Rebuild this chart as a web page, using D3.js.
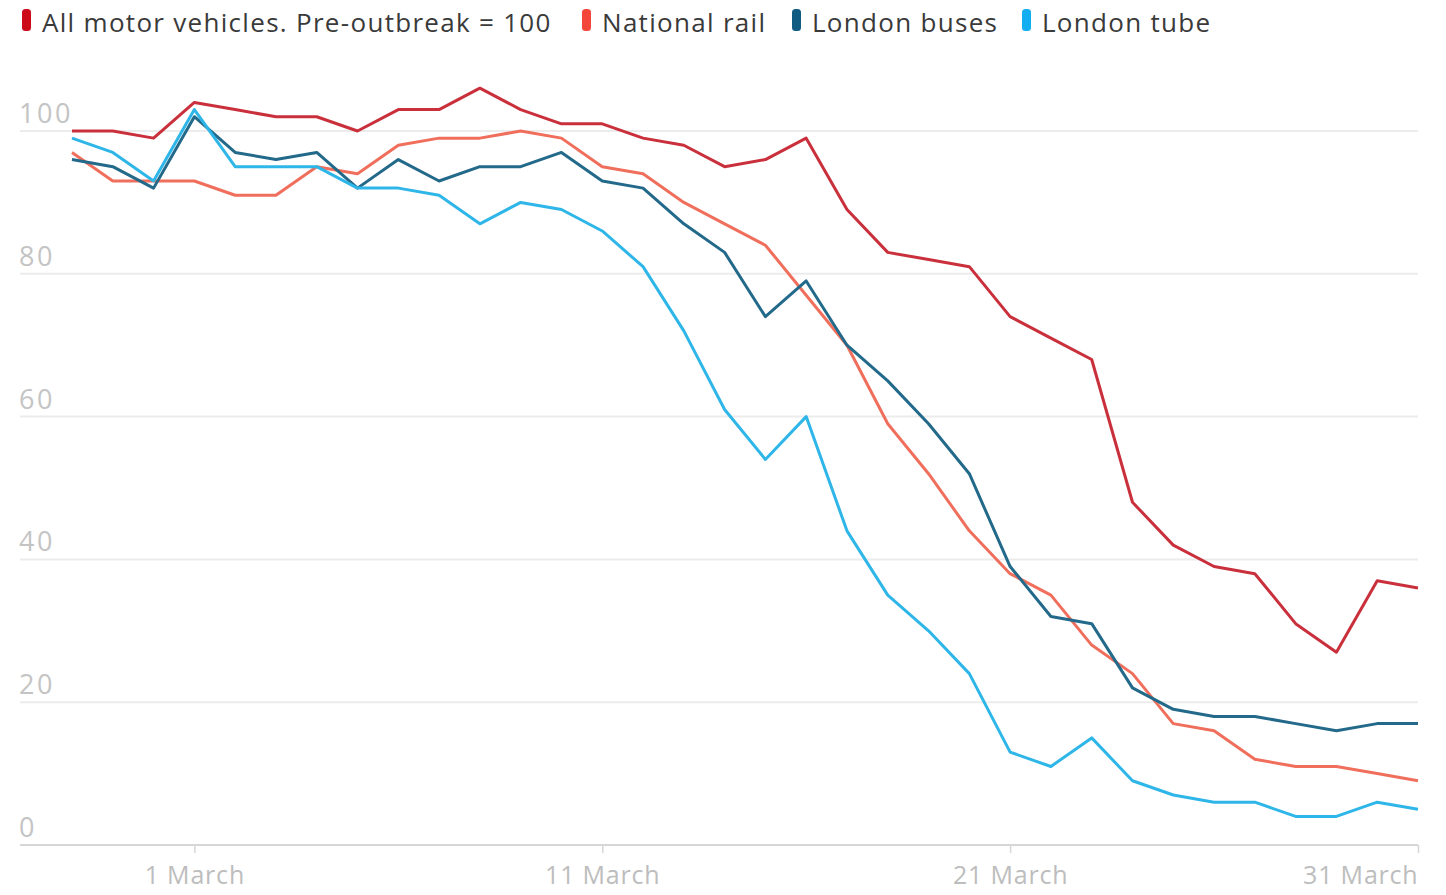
<!DOCTYPE html>
<html>
<head>
<meta charset="utf-8">
<script src="https://cdnjs.cloudflare.com/ajax/libs/d3/7.8.5/d3.min.js"></script>
<style>
  body { margin: 0; background: #fff; }
  #chart { width: 1446px; height: 895px; }
  .legend-text { font-family: "Open Sans", "Noto Sans", sans-serif; font-size: 26px; letter-spacing: 1.3px; fill: #3a3a3a; }
  .axis-label { font-family: "Open Sans", "Noto Sans", sans-serif; font-size: 25px; letter-spacing: 0.8px; fill: #bdbdbd; }
  .y-label { font-family: "Open Sans", "Noto Sans", sans-serif; font-size: 27px; letter-spacing: 2.5px; fill: #c4c4c4; }
</style>
</head>
<body>
<div id="chart"></div>
<script>
// Days from 27 Feb to 31 March 2020
var startDate = new Date(2020, 1, 27);
var endDate = new Date(2020, 2, 31);
var dates = d3.timeDay.range(startDate, d3.timeDay.offset(endDate, 1));

var motorValues = [100, 100, 99, 104, 103, 102, 102, 100, 103, 103, 106, 103, 101, 101, 99, 98, 95, 96, 99, 89, 83, 82, 81, 74, 71, 68, 48, 42, 39, 38, 31, 27, 37, 36];
var railValues = [97, 93, 93, 93, 91, 91, 95, 94, 98, 99, 99, 100, 99, 95, 94, 90, 87, 84, 77, 70, 59, 52, 44, 38, 35, 28, 24, 17, 16, 12, 11, 11, 10, 9];
var busValues = [96, 95, 92, 102, 97, 96, 97, 92, 96, 93, 95, 95, 97, 93, 92, 87, 83, 74, 79, 70, 65, 59, 52, 39, 32, 31, 22, 19, 18, 18, 17, 16, 17, 17];
var tubeValues = [99, 97, 93, 103, 95, 95, 95, 92, 92, 91, 87, 90, 89, 86, 81, 72, 61, 54, 60, 44, 35, 30, 24, 13, 11, 15, 9, 7, 6, 6, 4, 4, 6, 5];

var seriesNames = ['All motor vehicles. Pre-outbreak = 100', 'National rail', 'London buses', 'London tube'];
var seriesValues = [motorValues, railValues, busValues, tubeValues];
var lineColors = ['#c9303c', '#f06f5c', '#22698a', '#2fb6e8'];
var swatchColors = ['#cc0a18', '#f2473a', '#0f5b82', '#12aef2'];

var yTicks = [0, 20, 40, 60, 80, 100];
var xTickDates = [new Date(2020, 2, 1), new Date(2020, 2, 11), new Date(2020, 2, 21), new Date(2020, 2, 31)];
var xTickLabels = ['1 March', '11 March', '21 March', '31 March'];
var legendX = [22, 582, 792, 1022];

var width = 1446,
    height = 895;
var margin = {top: 131, right: 28, bottom: 50, left: 72};

var svg = d3.select('#chart')
    .append('svg')
    .attr('width', width)
    .attr('height', height);

// Scales
var x = d3.scaleTime()
    .domain([startDate, endDate])
    .range([margin.left, width - margin.right]);
var y = d3.scaleLinear()
    .domain([0, 100])
    .range([height - margin.bottom, margin.top]);

// Gridlines and y labels
var grid = svg.append('g');
grid.selectAll('line')
    .data(yTicks.filter(function(d) { return d > 0; }))
    .enter()
    .append('line')
    .attr('x1', 20)
    .attr('x2', x(endDate))
    .attr('y1', function(d) { return y(d); })
    .attr('y2', function(d) { return y(d); })
    .attr('stroke', '#ececec')
    .attr('stroke-width', 2);

grid.selectAll('text')
    .data(yTicks)
    .enter()
    .append('text')
    .attr('class', 'y-label')
    .attr('x', 19)
    .attr('y', function(d) { return y(d) - 8; })
    .text(function(d) { return d; });

// X axis
var xAxis = d3.axisBottom(x)
    .tickValues(xTickDates)
    .tickSize(8)
    .tickFormat(function(d, i) { return xTickLabels[i]; });

var xAxisG = svg.append('g')
    .attr('transform', 'translate(0,' + y(0) + ')')
    .call(xAxis);
xAxisG.select('.domain').remove();
xAxisG.insert('line', ':first-child')
    .attr('x1', 20)
    .attr('x2', x(endDate))
    .attr('stroke', '#d6d6d6')
    .attr('stroke-width', 2);
xAxisG.selectAll('.tick line')
    .attr('stroke', '#d6d6d6')
    .attr('stroke-width', 1.5);
xAxisG.selectAll('.tick text')
    .attr('class', 'axis-label')
    .attr('fill', null)
    .attr('dy', '0.71em')
    .attr('y', 21)
    .attr('text-anchor', function(d, i) { return i === xTickDates.length - 1 ? 'end' : 'middle'; });
xAxisG.attr('font-size', null).attr('font-family', null);

// Lines
var line = d3.line()
    .x(function(d, i) { return x(dates[i]); })
    .y(function(d) { return y(d); });

svg.append('g')
    .selectAll('path')
    .data(seriesValues)
    .enter()
    .append('path')
    .attr('fill', 'none')
    .attr('stroke', function(d, i) { return lineColors[i]; })
    .attr('stroke-width', 3)
    .attr('stroke-linejoin', 'round')
    .attr('d', line);

// Legend
var legend = svg.append('g')
    .selectAll('g')
    .data(seriesNames)
    .enter()
    .append('g')
    .attr('transform', function(d, i) { return 'translate(' + legendX[i] + ',0)'; });

legend.append('rect')
    .attr('x', 0)
    .attr('y', 9)
    .attr('width', 9)
    .attr('height', 22)
    .attr('rx', 3.5)
    .attr('fill', function(d, i) { return swatchColors[i]; });

legend.append('text')
    .attr('class', 'legend-text')
    .attr('x', 20)
    .attr('y', 32)
    .text(function(d) { return d; });
</script>
</body>
</html>
